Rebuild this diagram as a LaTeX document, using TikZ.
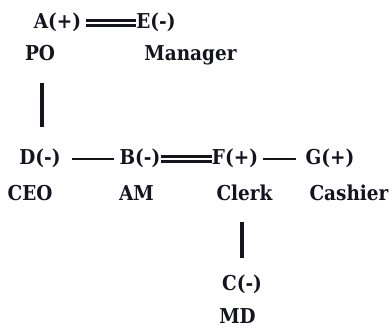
\documentclass[tikz,border=0pt]{standalone}
\usepackage{fontspec}
\setmainfont{DejaVu Serif Condensed}
\usepackage{xcolor}
\usepackage{tikz}
\usetikzlibrary{positioning}
\definecolor{encre}{RGB}{20,20,30}

\begin{document}
\begin{tikzpicture}[x=1pt, y=-1pt,
  pers/.style={anchor=base, inner sep=0pt, text=encre,
               font=\fontsize{20.5}{25}\selectfont\bfseries},
  lien/.style={draw=encre, line width=3.2pt},
  paire/.style={draw=encre, double=white, line width=3pt, double distance=1.6pt}]

\useasboundingbox (0,0) rectangle (392,328);

% ── ligne du haut ──
\node[pers] (A) at (57.5, 29) {A(+)};
\node[pers] (E) at (156, 29) {E(-)};
\node[pers] (po) at (40, 61) {PO};
\node[pers] (manager) at (190.5, 61) {Manager};

% ── ligne du milieu ──
\node[pers] (D) at (40, 165) {D(-)};
\node[pers] (B) at (140, 165) {B(-)};
\node[pers] (F) at (235, 165) {F(+)};
\node[pers] (G) at (330, 165) {G(+)};
\node[pers] (ceo) at (30, 201) {CEO};
\node[pers] (am) at (136.5, 201) {AM};
\node[pers] (clerk) at (244.5, 201) {Clerk};
\node[pers] (cashier) at (349, 201) {Cashier};

% ── en bas ──
\node[pers] (C) at (242, 291) {C(-)};
\node[pers] (md) at (237.5, 324) {MD};

% ── liens ──
\draw[paire, shorten <=5pt] (A.east) -- (E.west);
\draw[lien, line width=2.6pt, shorten <=11pt, shorten >=5pt] (D.east) -- (B.west);
\draw[paire] (B.east) -- (F.west);
\draw[lien, line width=2.6pt, shorten <=5pt, shorten >=9pt] (F.east) -- (G.west);
\draw[lien, shorten <=22pt, shorten >=22pt] ([xshift=2pt]po.south) -- ([xshift=2pt]po.south |- D.north);
\draw[lien, shorten <=21pt, shorten >=17pt] (clerk.south -| C.north) -- (C.north);

\end{tikzpicture}
\end{document}
